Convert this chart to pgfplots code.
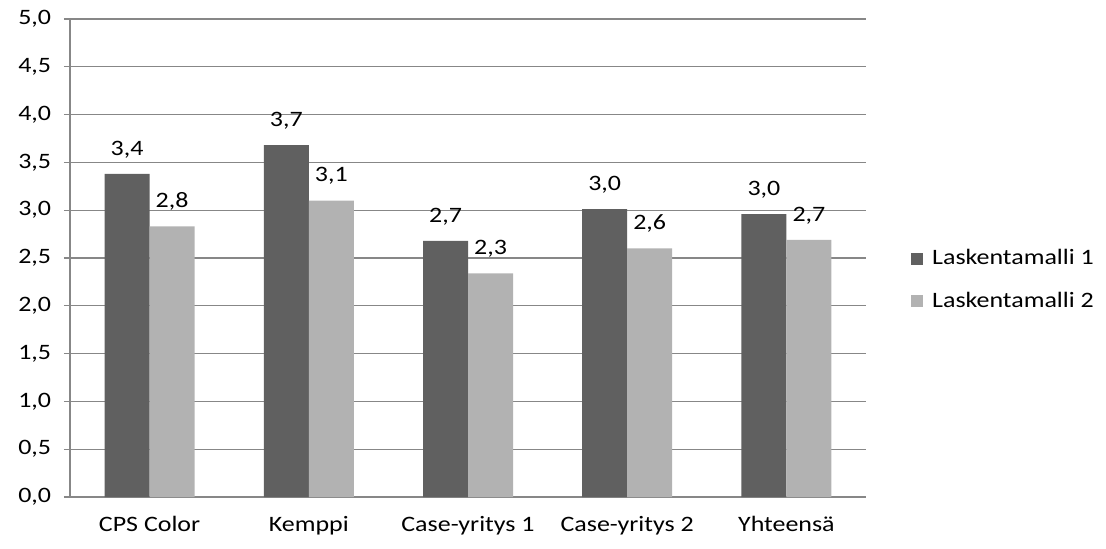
\documentclass[border=0pt]{standalone}
\usepackage{fontspec}
\setmainfont{Carlito}[FakeStretch=1.18]
\usepackage{pgfplots}
\pgfplotsset{compat=1.18}
\definecolor{darkbar}{HTML}{606060}
\definecolor{lightbar}{HTML}{B2B2B2}
\definecolor{gridc}{HTML}{878787}
\begin{document}
\begin{tikzpicture}
\fontsize{16.5}{19}\selectfont
\begin{axis}[
  scale only axis,
  width=597pt, height=358.5pt,
  ymin=0, ymax=5, ytick={0,0.5,...,5},
  xmin=-0.5, xmax=4.5,
  xtick={0,1,2,3,4},
  xticklabels={CPS Color,Kemppi,Case-yritys 1,Case-yritys 2,Yhteensä},
  extra x ticks={-0.5,0.5,1.5,2.5,3.5,4.5},
  extra x tick labels={},
  extra x tick style={major tick length=4.5pt, tick style={gridc, line width=0.8pt}, grid=none},
  x tick style={draw=none},
  axis x line*=bottom, axis y line*=left,
  axis line style={gridc, line width=0.8pt, -},
  ymajorgrids, grid style={gridc, line width=0.8pt},
  y tick style={gridc, line width=0.8pt},
  tick align=outside, major tick length=4.5pt,
  yticklabel style={xshift=-4pt, /pgf/number format/.cd, use comma, fixed, fixed zerofill, precision=1, assume math mode=true},
  ticklabel style={font=\fontsize{16.5}{19}\selectfont},
  xticklabel style={yshift=-4pt},
  ybar=0pt, bar width=33.75pt,
  nodes near coords,
  nodes near coords style={font=\fontsize{16.5}{19}\selectfont, anchor=base, yshift=14pt, inner sep=0pt,
    /pgf/number format/.cd, use comma, fixed, fixed zerofill, precision=1, assume math mode=true},
  legend style={at={(1.056,0.454)}, anchor=west, draw=none, fill=none,
    font=\fontsize{16.5}{19}\selectfont, row sep=14pt, inner sep=0pt,
    /tikz/every odd column/.append style={column sep=5pt}},
  legend image code/.code={\fill[#1] (0pt,-4.5pt) rectangle (9pt,4.5pt);},
  clip=false,
]
\addplot[fill=darkbar, draw=none] coordinates {(0,3.38) (1,3.68) (2,2.68) (3,3.01) (4,2.96)};
\addplot[fill=lightbar, draw=none] coordinates {(0,2.83) (1,3.10) (2,2.34) (3,2.60) (4,2.69)};
\legend{Laskentamalli 1, Laskentamalli 2}
\path (rel axis cs:0,0) coordinate (o);
\path (rel axis cs:1,1) coordinate (t);
\end{axis}
\pgfresetboundingbox
\path ([shift={(-52.5pt,-38.25pt)}]o) rectangle ([shift={(180pt,14.25pt)}]t);
\end{tikzpicture}
\end{document}
